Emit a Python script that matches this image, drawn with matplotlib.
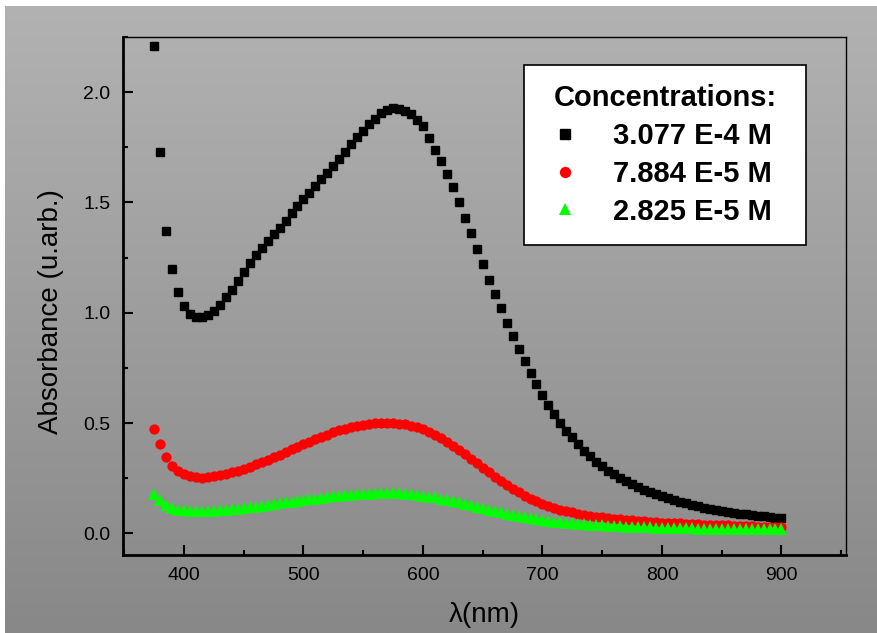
import numpy as np
import matplotlib
matplotlib.use("Agg")
import matplotlib.pyplot as plt

plt.rcParams['font.family'] = ['Liberation Sans', 'DejaVu Sans']

# longitudes de onda (nm), paso de 5 nm
wavelength = list(range(375, 905, 5))

# 3.077 E-4 M
abs_high = [
    2.21, 1.73, 1.37, 1.20, 1.095, 1.03, 0.995, 0.98, 0.98, 0.99,
    1.01, 1.035, 1.07, 1.105, 1.145, 1.185, 1.225, 1.26, 1.295, 1.325,
    1.355, 1.385, 1.415, 1.45, 1.485, 1.515, 1.545, 1.575, 1.605, 1.635,
    1.665, 1.695, 1.73, 1.765, 1.795, 1.825, 1.855, 1.88, 1.905, 1.92,
    1.93, 1.925, 1.915, 1.90, 1.875, 1.845, 1.79, 1.74, 1.69, 1.63,
    1.57, 1.50, 1.43, 1.36, 1.29, 1.22, 1.15, 1.085, 1.02, 0.955,
    0.895, 0.835, 0.78, 0.725, 0.675, 0.625, 0.58, 0.54, 0.50, 0.465,
    0.435, 0.405, 0.375, 0.35, 0.325, 0.305, 0.285, 0.268, 0.252, 0.237,
    0.223, 0.21, 0.198, 0.187, 0.177, 0.168, 0.159, 0.151, 0.143, 0.136,
    0.129, 0.123, 0.117, 0.112, 0.107, 0.102, 0.098, 0.094, 0.090, 0.086,
    0.083, 0.080, 0.077, 0.074, 0.071, 0.068,
]

# 7.884 E-5 M
abs_mid = [
    0.473, 0.404, 0.347, 0.307, 0.283, 0.268, 0.259, 0.254, 0.253, 0.255,
    0.259, 0.264, 0.270, 0.277, 0.285, 0.294, 0.303, 0.313, 0.323, 0.334,
    0.345, 0.357, 0.369, 0.381, 0.393, 0.405, 0.416, 0.427, 0.438, 0.448,
    0.458, 0.467, 0.475, 0.482, 0.488, 0.493, 0.497, 0.500, 0.501, 0.502,
    0.501, 0.498, 0.494, 0.488, 0.480, 0.471, 0.460, 0.447, 0.432, 0.416,
    0.398, 0.379, 0.359, 0.339, 0.318, 0.297, 0.276, 0.256, 0.237, 0.219,
    0.202, 0.186, 0.171, 0.158, 0.146, 0.135, 0.125, 0.116, 0.108, 0.101,
    0.095, 0.089, 0.084, 0.080, 0.076, 0.072, 0.069, 0.066, 0.063, 0.061,
    0.059, 0.057, 0.055, 0.053, 0.051, 0.049, 0.048, 0.046, 0.045, 0.044,
    0.042, 0.041, 0.040, 0.039, 0.038, 0.037, 0.036, 0.035, 0.034, 0.033,
    0.032, 0.031, 0.030, 0.029, 0.028, 0.028,
]

# 2.825 E-5 M
abs_low = [
    0.180, 0.150, 0.128, 0.115, 0.108, 0.104, 0.102, 0.101, 0.101, 0.102,
    0.103, 0.105, 0.107, 0.109, 0.112, 0.115, 0.118, 0.121, 0.125, 0.128,
    0.132, 0.136, 0.140, 0.144, 0.148, 0.151, 0.155, 0.158, 0.162, 0.165,
    0.168, 0.171, 0.173, 0.175, 0.177, 0.179, 0.180, 0.181, 0.182, 0.182,
    0.182, 0.181, 0.179, 0.177, 0.174, 0.171, 0.167, 0.163, 0.158, 0.153,
    0.147, 0.141, 0.135, 0.128, 0.121, 0.114, 0.107, 0.101, 0.095, 0.089,
    0.083, 0.077, 0.072, 0.068, 0.064, 0.060, 0.056, 0.053, 0.050, 0.047,
    0.045, 0.043, 0.041, 0.039, 0.037, 0.036, 0.034, 0.033, 0.032, 0.031,
    0.030, 0.029, 0.028, 0.027, 0.026, 0.025, 0.025, 0.024, 0.024, 0.023,
    0.023, 0.022, 0.022, 0.021, 0.021, 0.021, 0.020, 0.020, 0.019, 0.019,
    0.019, 0.018, 0.018, 0.018, 0.018, 0.018,
]

labels = ["3.077 E-4 M", "7.884 E-5 M", "2.825 E-5 M"]

fig = plt.figure(figsize=(8.78, 6.33), dpi=100, facecolor="white")

# fondo gris con degradado vertical (deja un borde blanco arriba e izquierda)
bg = fig.add_axes([5 / 878, 0, 873 / 878, 627 / 633], zorder=0)
grad = np.linspace(178, 136, 256).reshape(-1, 1) / 255.0
bg.imshow(np.dstack([grad, grad, grad]), aspect="auto", extent=[0, 1, 0, 1])
bg.set_axis_off()

ax = fig.add_axes([123 / 878, 1 - 555 / 633, 723 / 878, 518 / 633], zorder=1)
ax.patch.set_alpha(0)

ax.plot(wavelength, abs_high, ls="none", marker="s", ms=6.3, color="black", label=labels[0])
ax.plot(wavelength, abs_mid, ls="none", marker="o", ms=7.4, color="red", mew=0, label=labels[1])
ax.plot(wavelength, abs_low, ls="none", marker="^", ms=8.5, color="#00ff00", mew=0, label=labels[2])

ax.set_xlim(349, 954)
ax.set_ylim(-0.098, 2.25)
ax.set_xticks([400, 500, 600, 700, 800, 900])
ax.set_xticks(list(range(350, 951, 50)), minor=True)
ax.set_yticks([0.0, 0.5, 1.0, 1.5, 2.0])
ax.set_yticks([0.25, 0.75, 1.25, 1.75, 2.25], minor=True)
ax.set_yticklabels(["0.0", "0.5", "1.0", "1.5", "2.0"])

ax.tick_params(which="major", direction="in", length=7, width=1.5, labelsize=14, pad=9)
ax.tick_params(which="minor", direction="in", length=3.5, width=1.5)
ax.tick_params(top=False, right=False)

ax.spines["left"].set_linewidth(2)
ax.spines["bottom"].set_linewidth(2)
ax.spines["top"].set_linewidth(1)
ax.spines["right"].set_linewidth(1)

ax.set_xlabel("λ(nm)", fontsize=20)
ax.set_ylabel("Absorbance (u.arb.)", fontsize=20)
ax.xaxis.set_label_coords(0.5, -0.09)
ax.yaxis.set_label_coords(-0.082, 0.47)

# leyenda expandida al ancho de la caja original
leg = ax.legend(title="Concentrations:", loc="upper left", mode="expand",
                bbox_to_anchor=(524 / 878, 1 - 240 / 633, 282 / 878, 175 / 633),
                bbox_transform=fig.transFigure,
                prop={"size": 21, "weight": "bold"}, title_fontproperties={"size": 21, "weight": "bold"},
                frameon=True, fancybox=False, edgecolor="black", facecolor="white", framealpha=1,
                handlelength=1.5, handletextpad=0.9, borderpad=0.65, labelspacing=0.34,
                borderaxespad=0, markerscale=1.1)
leg.get_frame().set_linewidth(1.2)

fig.savefig("out.png", dpi=100)
